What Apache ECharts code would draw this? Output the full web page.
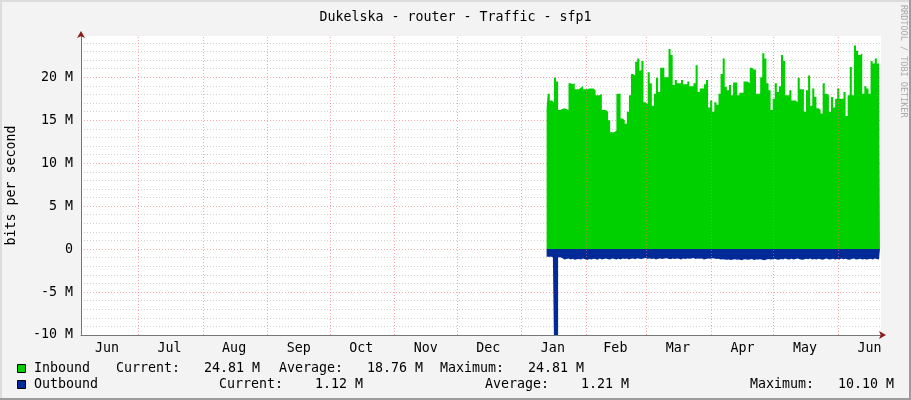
<!DOCTYPE html>
<html>
<head>
<meta charset="utf-8">
<script src="https://cdn.jsdelivr.net/npm/echarts@6/dist/echarts.min.js"></script>
<style>
  html, body { margin: 0; padding: 0; background: #f3f3f3; }
  #wrap { position: relative; width: 911px; height: 400px; }
  #chart { position: absolute; left: 0; top: 0; width: 911px; height: 400px; }
  .edge { position: absolute; pointer-events: none; }
</style>
</head>
<body>
<div id="wrap">
  <div id="chart"></div>
  <div class="edge" style="left:0;top:0;width:911px;height:2px;background:#dcdcdc"></div>
  <div class="edge" style="left:0;top:0;width:2px;height:400px;background:#dcdcdc"></div>
  <div class="edge" style="right:0;top:0;width:2px;height:400px;background:#9c9c9c"></div>
  <div class="edge" style="left:0;bottom:0;width:911px;height:2px;background:#9c9c9c"></div>
</div>
<script>
// ---------- data ----------
const titleText = 'Dukelska - router - Traffic - sfp1';
const yAxisTitle = 'bits per second';
const axisStart = Date.UTC(2023, 5, 3, 12);
const axisEnd = Date.UTC(2024, 5, 21, 12);
const dataStart = Date.UTC(2024, 0, 13);   // first daily sample
const monthLabels = ['Jun','Jul','Aug','Sep','Oct','Nov','Dec','Jan','Feb','Mar','Apr','May','Jun'];
const monthLabelDates = [
  [2023,5,16],[2023,6,16],[2023,7,16],[2023,8,16],[2023,9,16],[2023,10,16],[2023,11,16],
  [2024,0,16],[2024,1,15],[2024,2,16],[2024,3,16],[2024,4,16],[2024,5,16]
];
const monthStartDates = [
  [2023,6,1],[2023,7,1],[2023,8,1],[2023,9,1],[2023,10,1],[2023,11,1],
  [2024,0,1],[2024,1,1],[2024,2,1],[2024,3,1],[2024,4,1],[2024,5,1]
];
// Inbound, Mbit/s, one value per day from 2024-01-13
const inboundM = [
  16.4, 18.1, 17.3, 17.1, 19.96, 19.5, 16.2, 16.3, 16.4, 16.3,
  16.2, 19.3, 19.2, 19.3, 18.6, 18.6, 18.8, 19.0, 18.6, 18.6,
  18.7, 18.7, 18.7, 18.5, 17.9, 17.9, 18.1, 16.2, 16.2, 16.0,
  15.0, 13.6, 13.6, 13.8, 18.1, 18.1, 15.2, 15.0, 14.6, 16.0,
  17.9, 20.4, 20.2, 21.8, 22.2, 20.8, 21.9, 17.1, 16.9, 20.6,
  19.3, 16.7, 18.1, 19.96, 18.3, 21.1, 21.1, 20.0, 20.0, 23.3,
  22.6, 19.1, 19.7, 19.3, 19.3, 19.7, 19.2, 19.2, 19.5, 18.95,
  18.95, 19.3, 21.4, 18.3, 18.7, 18.7, 19.2, 19.7, 16.5, 17.3,
  16.0, 17.1, 16.8, 18.1, 20.4, 22.2, 18.9, 18.5, 19.1, 17.9,
  19.4, 19.4, 17.9, 18.2, 18.2, 19.5, 19.5, 19.3, 21.1, 20.9,
  20.9, 18.1, 18.1, 20.0, 22.8, 22.2, 19.3, 18.5, 16.2, 17.5,
  19.3, 18.3, 18.95, 22.6, 21.9, 17.9, 17.9, 18.5, 17.3, 17.3,
  17.1, 19.96, 18.6, 18.6, 16.0, 18.5, 20.2, 16.7, 18.7, 17.7,
  16.4, 16.2, 15.8, 19.3, 18.1, 17.9, 16.0, 17.7, 16.5, 17.5,
  18.7, 17.5, 17.5, 18.3, 15.5, 17.9, 21.2, 17.9, 23.7, 23.1,
  22.6, 22.8, 18.1, 18.95, 18.7, 18.1, 21.9, 21.6, 22.2, 21.6,
  24.81
];
// Outbound, Mbit/s (drawn below zero)
const outboundM = [
  -0.9, -0.88, -0.9, -0.92, -10.1, -10.0, -0.95, -1.05, -1.2, -1.15,
  -1.1, -1.2, -1.12, -1.25, -1.18, -1.15, -1.22, -1.1, -1.18, -1.28,
  -1.15, -1.2, -1.12, -1.16, -1.24, -1.1, -1.2, -1.14, -1.08, -1.18,
  -1.2, -1.1, -1.15, -1.22, -1.12, -1.2, -1.08, -1.16, -1.1, -1.2,
  -1.12, -1.1, -1.18, -1.06, -1.12, -1.15, -1.1, -1.05, -1.12, -1.08,
  -1.15, -1.1, -1.2, -1.12, -1.08, -1.14, -1.1, -1.06, -1.12, -1.18,
  -1.1, -1.15, -1.08, -1.12, -1.2, -1.1, -1.14, -1.08, -1.12, -1.1,
  -1.05, -1.15, -1.1, -1.12, -1.08, -1.2, -1.14, -1.1, -1.12, -1.06,
  -1.1, -1.15, -1.12, -1.22, -1.18, -1.2, -1.25, -1.2, -1.28, -1.22,
  -1.18, -1.24, -1.2, -1.3, -1.22, -1.18, -1.25, -1.2, -1.15, -1.28,
  -1.2, -1.22, -1.18, -1.25, -1.3, -1.2, -1.15, -1.22, -1.18, -1.12,
  -1.2, -1.25, -1.15, -1.2, -1.1, -1.18, -1.22, -1.12, -1.2, -1.15,
  -1.1, -1.18, -1.25, -1.2, -1.12, -1.18, -1.1, -1.22, -1.15, -1.2,
  -1.12, -1.18, -1.25, -1.15, -1.1, -1.2, -1.18, -1.12, -1.22, -1.15,
  -1.2, -1.1, -1.18, -1.12, -1.2, -1.25, -1.15, -1.1, -1.2, -1.18,
  -1.12, -1.2, -1.15, -1.22, -1.18, -1.12, -1.2, -1.1, -1.15, -1.2,
  -1.12
];
const legendRows = [
  { name: 'Inbound',  color: '#00CF00', cur: 'Current:   24.81 M', avg: 'Average:   18.76 M', max: 'Maximum:   24.81 M' },
  { name: 'Outbound', color: '#002A97', cur: 'Current:    1.12 M', avg: 'Average:    1.21 M', max: 'Maximum:   10.10 M' }
];

// ---------- build ----------
const DAY = 86400000;
const toTs = a => Date.UTC(a[0], a[1], a[2]);
const inboundData = inboundM.map((v, i) => [dataStart + i * DAY, v * 1e6]);
const outboundData = outboundM.map((v, i) => [dataStart + i * DAY, v * 1e6]);
const labelTs = monthLabelDates.map(toTs);
const monthStartTs = monthStartDates.map(toTs);

const FONT = '"DejaVu Sans Mono", "Liberation Mono", monospace';
const FS = 13.3;
const MAJOR = 'rgba(240,110,110,0.6)';
const MINOR = 'rgba(170,170,170,0.55)';
const AXIS = '#777777';
const ARROW = '#8b1a1a';

const chart = echarts.init(document.getElementById('chart'), null, { renderer: 'canvas' });

const legendGraphics = [];
const cols = [
  [116, 279, 440],
  [219, 485, 750]
];
legendRows.forEach((r, k) => {
  const yc = 368 + k * 16;
  legendGraphics.push({
    type: 'rect', shape: { x: 17.5, y: yc - 3.5, width: 8, height: 8 },
    style: { fill: r.color, stroke: '#000', lineWidth: 1 }, silent: true
  });
  const parts = [[34, r.name], [cols[k][0], r.cur], [cols[k][1], r.avg], [cols[k][2], r.max]];
  parts.forEach(p => legendGraphics.push({
    type: 'text', x: p[0], y: yc + 0.5, silent: true,
    style: { text: p[1], font: FS + 'px ' + FONT, fill: '#000', verticalAlign: 'middle', align: 'left' }
  }));
});
legendGraphics.push({
  type: 'text', x: 903, y: 5, rotation: -Math.PI / 2, silent: true,
  style: { text: 'RRDTOOL / TOBI OETIKER', font: '8.5px ' + FONT, fill: '#a8a8a8', verticalAlign: 'middle', align: 'left' }
});

const option = {
  animation: false,
  backgroundColor: '#f3f3f3',
  title: {
    text: titleText, left: 'center', top: 6,
    textStyle: { fontFamily: FONT, fontSize: FS, fontWeight: 'normal', color: '#000' }
  },
  grid: {
    left: 81, right: 30, top: 36, bottom: 65,
    outerBoundsMode: 'none', containLabel: false,
    show: true, backgroundColor: '#ffffff', borderWidth: 0
  },
  xAxis: [{
    type: 'value', min: axisStart, max: axisEnd,
    axisLine: { show: true, onZero: false, lineStyle: { color: AXIS, width: 1 } },
    axisTick: { show: false },
    splitLine: { show: false },
    axisLabel: {
      customValues: labelTs, margin: 7,
      fontFamily: FONT, fontSize: FS, color: '#000',
      formatter: v => { const i = labelTs.indexOf(v); return i >= 0 ? monthLabels[i] : ''; }
    }
  }, {
    type: 'value', min: axisStart, max: axisEnd, position: 'bottom',
    axisLine: { show: true, onZero: false, symbol: ['none', 'arrow'], symbolSize: [6, 7], symbolOffset: [0, 5],
      lineStyle: { color: ARROW, width: 0 } },
    axisTick: { show: false }, axisLabel: { show: false }, splitLine: { show: false }
  }],
  yAxis: [{
    type: 'value', min: -10e6, max: 24.81e6, interval: 1e6,
    name: yAxisTitle, nameLocation: 'middle', nameGap: 63,
    nameTextStyle: { fontFamily: FONT, fontSize: FS, color: '#000' },
    axisLine: { show: true, onZero: false, lineStyle: { color: AXIS, width: 1 } },
    axisTick: { show: false },
    axisLabel: {
      showMaxLabel: false, margin: 8,
      fontFamily: FONT, fontSize: FS, color: '#000',
      formatter: v => {
        const m = Math.round(v / 1e6);
        if (Math.abs(v / 1e6 - m) > 1e-6 || m % 5 !== 0) return '';
        return m === 0 ? '0' : m + ' M';
      }
    },
    splitLine: {
      show: true, showMaxLine: false,
      lineStyle: { color: [MAJOR, MINOR, MINOR, MINOR, MINOR], type: [1, 2], width: 1 }
    }
  }, {
    type: 'value', min: -10e6, max: 24.81e6, position: 'left',
    axisLine: { show: true, onZero: false, symbol: ['none', 'arrow'], symbolSize: [6, 7], symbolOffset: [0, 5],
      lineStyle: { color: ARROW, width: 0 } },
    axisTick: { show: false }, axisLabel: { show: false }, splitLine: { show: false }
  }],
  graphic: legendGraphics,
  series: [{
    name: 'grid-months', type: 'line', data: [], z: 1, silent: true,
    markLine: {
      silent: true, symbol: ['none', 'none'], label: { show: false },
      lineStyle: { color: MAJOR, type: [1, 2], width: 1 },
      data: monthStartTs.map(t => ({ xAxis: t }))
    }
  }, {
    name: 'Inbound', type: 'line', step: 'middle', data: inboundData, z: 3,
    showSymbol: false, symbol: 'none', lineStyle: { width: 0 },
    areaStyle: { color: '#00CF00', opacity: 1 }, itemStyle: { color: '#00CF00' }
  }, {
    name: 'Outbound', type: 'line', step: 'middle', data: outboundData, z: 3,
    showSymbol: false, symbol: 'none', lineStyle: { width: 0 },
    areaStyle: { color: '#002A97', opacity: 1 }, itemStyle: { color: '#002A97' }
  }]
};
chart.setOption(option);
</script>
</body>
</html>
